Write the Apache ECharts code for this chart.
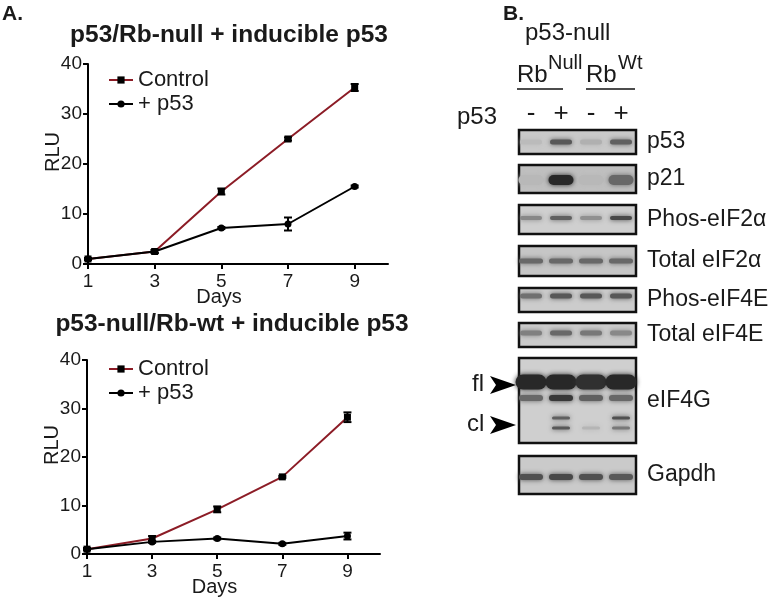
<!DOCTYPE html>
<html>
<head>
<meta charset="utf-8">
<script src="https://cdn.jsdelivr.net/npm/echarts@6/dist/echarts.min.js"></script>
<style>
  html, body { margin: 0; padding: 0; background: #fff; }
  #chart { width: 777px; height: 598px; }
</style>
</head>
<body>
<div id="chart"></div>
<script>
// x axis (days) and tick labels
const days = [1, 3, 5, 7, 9];
const dayTicks = [1, 3, 5, 7, 9];

// p53/Rb-null + inducible p53
const rbNullControl = [1.0, 2.5, 14.5, 25.0, 35.3];
const rbNullControlErr = [0.2, 0.3, 0.6, 0.3, 0.7];
const rbNullP53 = [1.0, 2.5, 7.2, 8.0, 15.5];
const rbNullP53Err = [0.2, 0.3, 0.2, 1.3, 0.2];

// p53-null/Rb-wt + inducible p53
const rbWtControl = [1.0, 3.2, 9.2, 15.9, 28.2];
const rbWtControlErr = [0.2, 0.5, 0.6, 0.2, 1.0];
const rbWtP53 = [1.0, 2.5, 3.2, 2.1, 3.7];
const rbWtP53Err = [0.2, 0.2, 0.2, 0.2, 0.7];

// western blot: lanes and band darkness (0 = none, 1 = black)
const lanes = ['-', '+', '-', '+'];
const blotRows = ['p53', 'p21', 'Phos-eIF2\u03b1', 'Total eIF2\u03b1', 'Phos-eIF4E', 'Total eIF4E', 'eIF4G', 'Gapdh'];
const p53Band = [0.08, 0.7, 0.15, 0.65];
const p21Band = [0.1, 1.0, 0.1, 0.6];
const phosEif2aBand = [0.4, 0.65, 0.35, 0.8];
const totalEif2aBand = [0.6, 0.6, 0.6, 0.6];
const phosEif4eBand = [0.55, 0.7, 0.7, 0.7];
const totalEif4eBand = [0.45, 0.6, 0.5, 0.4];
const eif4gFullBand = [1.0, 1.0, 0.95, 1.0];
const eif4gMidBand = [0.6, 0.9, 0.65, 0.6];
const eif4gCleavedUpper = [0, 0.65, 0, 0.75];
const eif4gCleavedLower = [0, 0.7, 0.12, 0.5];
const gapdhBand = [0.75, 0.8, 0.75, 0.7];

// blot layout (offsets in px from top of blot grid)
const rowLayout = [[0, 24], [35, 63], [75, 104], [116, 146], [158, 182], [193, 217], [228, 313], [326, 364]];
const rowFill = ['#c9c9c9', '#bfbfbf', '#cfcfcf', '#c6c6c6', '#cccccc', '#cbcbcb', '#cfcfcf', '#cacaca'];
const tracks = [
    { band: p53Band, y: 12, w: 22, h: 5 },
    { band: p21Band, y: 50, w: 25, h: 10 },
    { band: phosEif2aBand, y: 88, w: 22, h: 4 },
    { band: totalEif2aBand, y: 131, w: 24, h: 5 },
    { band: phosEif4eBand, y: 166, w: 22, h: 5 },
    { band: totalEif4eBand, y: 203, w: 22, h: 5 },
    { band: eif4gFullBand, y: 252, w: 31, h: 15 },
    { band: eif4gMidBand, y: 268, w: 24, h: 6 },
    { band: eif4gCleavedUpper, y: 288, w: 18, h: 3 },
    { band: eif4gCleavedLower, y: 298, w: 18, h: 3 },
    { band: gapdhBand, y: 347, w: 24, h: 6 }
];

const font = '"Liberation Sans", Arial, sans-serif';
const ink = '#1a1a1a';
const red = '#8c1c26';

function pairs(vals) {
    return days.map(function (d, i) { return [d, vals[i]]; });
}
function errPairs(vals, errs) {
    return days.map(function (d, i) { return [d, vals[i], errs[i]]; });
}

function renderErr(params, api) {
    const x = api.value(0), y = api.value(1), e = api.value(2);
    const top = api.coord([x, y + e]);
    const bot = api.coord([x, y - e]);
    const cap = 4;
    const st = { stroke: '#000', lineWidth: 2 };
    return {
        type: 'group',
        children: [
            { type: 'line', shape: { x1: top[0], y1: top[1], x2: bot[0], y2: bot[1] }, style: st },
            { type: 'line', shape: { x1: top[0] - cap, y1: top[1], x2: top[0] + cap, y2: top[1] }, style: st },
            { type: 'line', shape: { x1: bot[0] - cap, y1: bot[1], x2: bot[0] + cap, y2: bot[1] }, style: st }
        ]
    };
}

function renderBox(params, api) {
    const i = api.value(0);
    const lay = rowLayout[i];
    const a = api.coord([0, lay[0]]);
    const b = api.coord([3, lay[1]]);
    const left = a[0] - 12, right = b[0] + 15;
    return {
        type: 'group',
        children: [
            { type: 'rect', shape: { x: left, y: a[1], width: right - left, height: b[1] - a[1] },
              style: { fill: rowFill[i], stroke: '#111', lineWidth: 2.5 } },
            { type: 'text', x: right + 11, y: (a[1] + b[1]) / 2,
              style: { text: blotRows[i], font: '23px ' + font, fill: ink, textVerticalAlign: 'middle' } }
        ]
    };
}

function renderBand(params, api) {
    const level = api.value(2);
    if (level <= 0) return;
    const c = api.coord([api.value(0), api.value(1)]);
    const w = api.value(3), h = api.value(4);
    const g = Math.round(200 - level * 160);
    const col = 'rgb(' + g + ',' + g + ',' + g + ')';
    return {
        type: 'rect',
        shape: { x: c[0] - w / 2, y: c[1] - h / 2, width: w, height: h, r: h / 2 },
        style: { fill: col, shadowBlur: 5, shadowColor: col }
    };
}

const bandData = [];
tracks.forEach(function (t) {
    t.band.forEach(function (v, lane) {
        bandData.push([lane, t.y, v, t.w, t.h]);
    });
});

function valueX(gridIndex) {
    return {
        type: 'value', gridIndex: gridIndex, min: 1, max: 10,
        name: 'Days', nameLocation: 'middle', nameGap: 23, nameMoveOverlap: false,
        nameTextStyle: { fontSize: 20, color: ink, fontFamily: font, padding: [0, 38, 0, 0] },
        splitLine: { show: false },
        axisLine: { lineStyle: { color: '#000', width: 2 } },
        axisTick: { length: 5, lineStyle: { width: 2, color: '#000' }, customValues: dayTicks },
        axisLabel: { fontSize: 19, color: ink, fontFamily: font, margin: 8, customValues: dayTicks }
    };
}
function valueY(gridIndex) {
    return {
        type: 'value', gridIndex: gridIndex, min: 0, max: 40, interval: 10,
        name: 'RLU', nameLocation: 'middle', nameRotate: 90, nameGap: 25, nameMoveOverlap: false,
        nameTextStyle: { fontSize: 20, color: ink, fontFamily: font, padding: [0, 0, 0, 24] },
        splitLine: { show: false },
        axisLine: { show: true, lineStyle: { color: '#000', width: 2 } },
        axisTick: { show: true, length: 5, lineStyle: { width: 2, color: '#000' } },
        axisLabel: { fontSize: 19, color: ink, fontFamily: font, margin: 6 }
    };
}
function controlLine(idx, vals) {
    return {
        name: 'Control', type: 'line', xAxisIndex: idx, yAxisIndex: idx,
        data: pairs(vals), symbol: 'rect', symbolSize: 7, z: 3,
        itemStyle: { color: '#000' }, lineStyle: { color: red, width: 2 }
    };
}
function p53Line(idx, vals) {
    return {
        name: '+ p53', type: 'line', xAxisIndex: idx, yAxisIndex: idx,
        data: pairs(vals), symbol: 'circle', symbolSize: 7, z: 4,
        itemStyle: { color: '#000' }, lineStyle: { color: '#000', width: 2 }
    };
}
function errSeries(idx, vals, errs) {
    return {
        type: 'custom', xAxisIndex: idx, yAxisIndex: idx, z: 5, silent: true,
        data: errPairs(vals, errs), encode: { x: 0, y: 1 }, renderItem: renderErr
    };
}
function legendAt(top) {
    return {
        orient: 'vertical', left: 108, top: top, padding: 0,
        itemWidth: 24, itemHeight: 9, itemGap: 2,
        data: ['Control', '+ p53'],
        textStyle: { fontSize: 22, color: ink, fontFamily: font }
    };
}

const chart = echarts.init(document.getElementById('chart'), null, { renderer: 'canvas' });
const option = {
    backgroundColor: '#fff',
    animation: false,
    textStyle: { fontFamily: font },
    title: [
        { text: 'A.', left: 2, top: 4, padding: 0, textStyle: { fontSize: 21, fontWeight: 'bold', color: ink } },
        { text: 'B.', left: 503, top: 4, padding: 0, textStyle: { fontSize: 21, fontWeight: 'bold', color: ink } },
        { text: 'p53/Rb-null + inducible p53', left: 229, top: 23, padding: 0, textAlign: 'center',
          textStyle: { fontSize: 24.5, fontWeight: 'bold', color: ink } },
        { text: 'p53-null/Rb-wt + inducible p53', left: 232, top: 312, padding: 0, textAlign: 'center',
          textStyle: { fontSize: 24.5, fontWeight: 'bold', color: ink } }
    ],
    legend: [legendAt(69), legendAt(358)],
    grid: [
        { left: 88, top: 64, width: 300, height: 200, outerBoundsMode: 'none' },
        { left: 87, top: 360, width: 293, height: 194, outerBoundsMode: 'none' },
        { left: 516, top: 130, width: 120, height: 364, outerBoundsMode: 'none' }
    ],
    xAxis: [
        valueX(0),
        valueX(1),
        {
            type: 'category', gridIndex: 2, data: lanes, position: 'top',
            axisLine: { show: false }, axisTick: { show: false }, splitLine: { show: false },
            axisLabel: { fontSize: 26, color: ink, fontFamily: font, margin: 3 }
        }
    ],
    yAxis: [
        valueY(0),
        valueY(1),
        { type: 'value', gridIndex: 2, min: 0, max: 364, inverse: true, show: false }
    ],
    series: [
        controlLine(0, rbNullControl),
        p53Line(0, rbNullP53),
        errSeries(0, rbNullControl, rbNullControlErr),
        errSeries(0, rbNullP53, rbNullP53Err),
        controlLine(1, rbWtControl),
        p53Line(1, rbWtP53),
        errSeries(1, rbWtControl, rbWtControlErr),
        errSeries(1, rbWtP53, rbWtP53Err),
        {
            type: 'custom', xAxisIndex: 2, yAxisIndex: 2, silent: true, z: 2,
            data: blotRows.map(function (r, i) { return [i, 0]; }),
            encode: { x: 1, y: 1 }, renderItem: renderBox
        },
        {
            type: 'custom', xAxisIndex: 2, yAxisIndex: 2, silent: true, z: 3,
            data: bandData, encode: { x: 0, y: 1 }, renderItem: renderBand
        }
    ],
    graphic: [
        { type: 'text', left: 525, top: 21, style: { text: 'p53-null', font: '24px ' + font, fill: ink } },
        { type: 'text', x: 517, y: 87, style: { text: 'Rb', font: '24px ' + font, fill: ink, textVerticalAlign: 'bottom' } },
        { type: 'text', x: 548, y: 73, style: { text: 'Null', font: '20px ' + font, fill: ink, textVerticalAlign: 'bottom' } },
        { type: 'text', x: 586, y: 87, style: { text: 'Rb', font: '24px ' + font, fill: ink, textVerticalAlign: 'bottom' } },
        { type: 'text', x: 618, y: 73, style: { text: 'Wt', font: '20px ' + font, fill: ink, textVerticalAlign: 'bottom' } },
        { type: 'line', shape: { x1: 517, y1: 89, x2: 563, y2: 89 }, style: { stroke: '#111', lineWidth: 1.5 } },
        { type: 'line', shape: { x1: 586, y1: 89, x2: 635, y2: 89 }, style: { stroke: '#111', lineWidth: 1.5 } },
        { type: 'text', x: 457, y: 117, style: { text: 'p53', font: '24px ' + font, fill: ink, textVerticalAlign: 'middle' } },
        { type: 'text', x: 472, y: 384, style: { text: 'fl', font: '24px ' + font, fill: ink, textVerticalAlign: 'middle' } },
        { type: 'polygon', shape: { points: [[490, 376], [516, 385], [490, 394], [496, 385]] }, style: { fill: '#000' } },
        { type: 'text', x: 467, y: 424, style: { text: 'cl', font: '24px ' + font, fill: ink, textVerticalAlign: 'middle' } },
        { type: 'polygon', shape: { points: [[490, 416], [516, 425], [490, 434], [496, 425]] }, style: { fill: '#000' } }
    ]
};
chart.setOption(option);
window.addEventListener('resize', function () {
    chart.resize();
});
</script>
</body>
</html>
